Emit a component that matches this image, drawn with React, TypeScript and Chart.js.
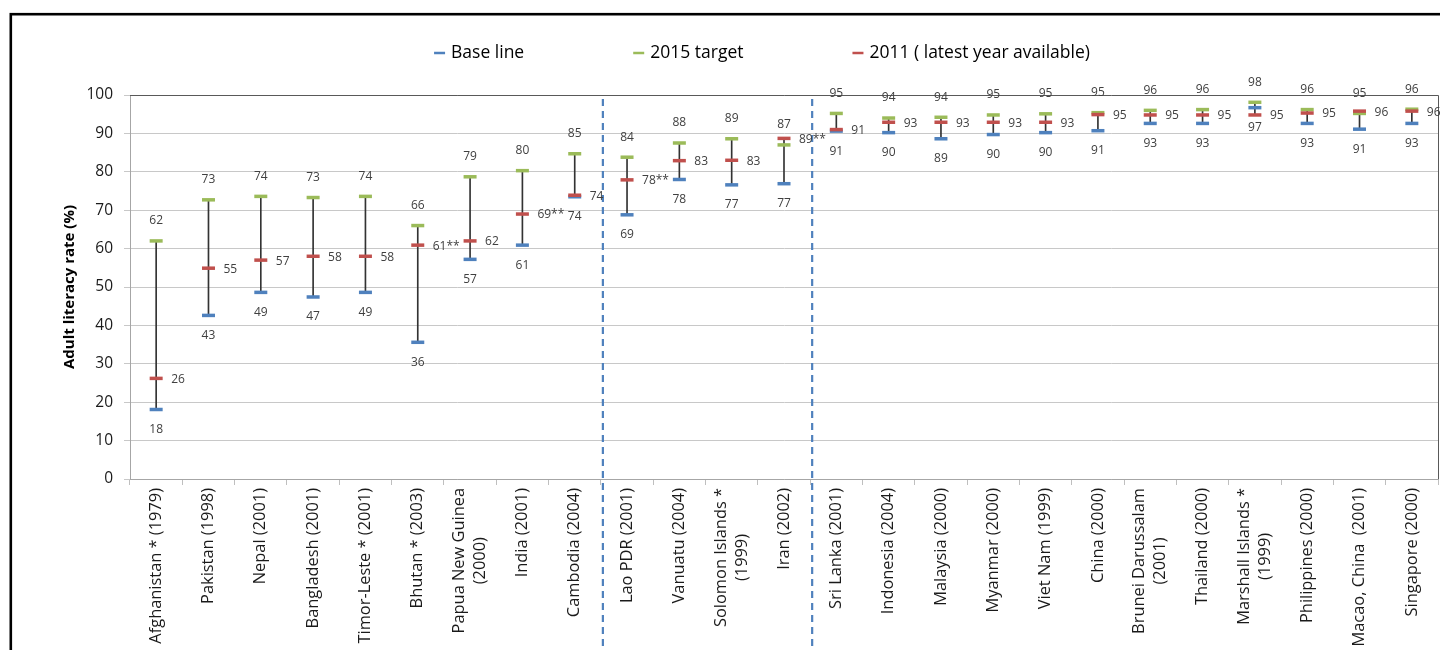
import React, { useEffect, useRef } from 'react';
import { Chart, registerables } from 'chart.js';

Chart.register(...registerables);

const categories: (string | string[])[] = [
  'Afghanistan * (1979)',
  'Pakistan (1998)',
  'Nepal (2001)',
  'Bangladesh (2001)',
  'Timor-Leste * (2001)',
  'Bhutan * (2003)',
  ['Papua New Guinea', '(2000)'],
  'India (2001)',
  'Cambodia (2004)',
  'Lao PDR (2001)',
  'Vanuatu (2004)',
  ['Solomon Islands *', '(1999)'],
  'Iran (2002)',
  'Sri Lanka (2001)',
  'Indonesia (2004)',
  'Malaysia (2000)',
  'Myanmar (2000)',
  'Viet Nam (1999)',
  'China (2000)',
  ['Brunei Darussalam', '(2001)'],
  'Thailand (2000)',
  ['Marshall Islands *', '(1999)'],
  'Philippines (2000)',
  'Macao, China  (2001)',
  'Singapore (2000)',
];

const baseLine = [18.1, 42.6, 48.6, 47.4, 48.6, 35.6, 57.2, 60.9, 73.5, 68.8, 78.0, 76.6, 76.9, 90.6, 90.2, 88.6, 89.7, 90.2, 90.7, 92.6, 92.6, 96.7, 92.6, 91.1, 92.6];
const target2015 = [62.0, 72.7, 73.6, 73.3, 73.6, 66.0, 78.7, 80.3, 84.7, 83.8, 87.5, 88.6, 87.0, 95.2, 94.0, 94.2, 94.8, 95.1, 95.4, 96.0, 96.2, 98.1, 96.2, 95.2, 96.3];
const latest2011 = [26.2, 54.9, 57.0, 58.0, 58.0, 60.9, 62.0, 69.0, 73.9, 77.9, 82.9, 83.0, 88.7, 91.0, 92.9, 92.9, 92.9, 92.9, 94.9, 94.8, 94.8, 94.8, 95.3, 95.8, 95.8];
const latestNotes = ['', '', '', '', '', '**', '', '**', '', '**', '', '', '**', '', '', '', '', '', '', '', '', '', '', '', ''];

const groupStarts = [9, 13];
const seriesNames = ['Base line', '2015 target', '2011 ( latest year available)'];
const seriesColors = ['#4F81BD', '#9BBB59', '#C0504D'];
const yMin = 0;
const yMax = 100;
const yStep = 10;

const FONT = '"Open Sans", "DejaVu Sans", sans-serif';

const CANVAS_W = 1440;
const CANVAS_H = 642;

const decorPlugin = {
  id: 'decor',
  beforeDraw(chart: any) {
    const ctx = chart.ctx;
    ctx.save();
    ctx.fillStyle = '#ffffff';
    ctx.fillRect(0, 0, chart.width, chart.height);
    ctx.strokeStyle = '#000000';
    ctx.lineWidth = 2.6;
    ctx.strokeRect(2.8, 6.2, chart.width + 40, chart.height + 40);
    ctx.restore();
  },
  beforeDatasetsDraw(chart: any) {
    const ctx = chart.ctx;
    const a = chart.chartArea;
    const xs = chart.scales.x;
    ctx.save();
    ctx.strokeStyle = '#595959';
    ctx.lineWidth = 1;
    ctx.beginPath();
    ctx.moveTo(a.left, Math.round(a.top) + 0.5);
    ctx.lineTo(Math.round(a.right) + 0.5, Math.round(a.top) + 0.5);
    ctx.lineTo(Math.round(a.right) + 0.5, a.bottom);
    ctx.stroke();
    ctx.strokeStyle = '#4F81BD';
    ctx.lineWidth = 2.2;
    ctx.setLineDash([7, 5]);
    groupStarts.forEach((g) => {
      const x = xs.getPixelForValue(g - 0.5) + 2;
      ctx.beginPath();
      ctx.moveTo(x, a.top + 4);
      ctx.lineTo(x, chart.height - 4);
      ctx.stroke();
    });
    ctx.restore();
  },
  afterDraw(chart: any) {
    const ctx = chart.ctx;
    const a = chart.chartArea;
    const xs = chart.scales.x;
    ctx.save();

    ctx.font = `12px ${FONT}`;
    ctx.fillStyle = '#404040';
    const drawSet = (di: number, values: number[], mode: string) => {
      const meta = chart.getDatasetMeta(di);
      meta.data.forEach((pt: any, i: number) => {
        const txt = String(Math.round(values[i])) + (di === 2 ? latestNotes[i] : '');
        if (mode === 'above') {
          ctx.textAlign = 'center';
          ctx.textBaseline = 'middle';
          ctx.fillText(txt, pt.x, pt.y - 20);
        } else if (mode === 'below') {
          ctx.textAlign = 'center';
          ctx.textBaseline = 'middle';
          ctx.fillText(txt, pt.x, pt.y + 20);
        } else {
          ctx.textAlign = 'left';
          ctx.textBaseline = 'middle';
          ctx.fillText(txt, pt.x + 15, pt.y + 1);
        }
      });
    };
    drawSet(0, baseLine, 'below');
    drawSet(1, target2015, 'above');
    drawSet(2, latest2011, 'right');

    ctx.font = `16.4px ${FONT}`;
    ctx.fillStyle = '#1a1a1a';
    categories.forEach((c, i) => {
      const lines = Array.isArray(c) ? c : [c];
      const x = xs.getPixelForTick(i);
      const y0 = a.bottom + 9;
      const wmax = Math.max(...lines.map((l) => ctx.measureText(l).width));
      ctx.save();
      ctx.translate(x, y0);
      ctx.rotate(-Math.PI / 2);
      ctx.textAlign = 'center';
      ctx.textBaseline = 'middle';
      lines.forEach((l, k) => {
        ctx.fillText(l, -wmax / 2, (k - (lines.length - 1) / 2) * 21);
      });
      ctx.restore();
    });

    ctx.font = `17.5px ${FONT}`;
    const symW = 11;
    const symGap = 6;
    const gap = 109;
    const widths = seriesNames.map((n) => symW + symGap + ctx.measureText(n).width);
    const total = widths.reduce((s, w) => s + w, 0) + gap * (seriesNames.length - 1);
    let lx = 754 - total / 2;
    const ly = 45;
    seriesNames.forEach((n, i) => {
      ctx.strokeStyle = seriesColors[i];
      ctx.lineWidth = 2.5;
      ctx.beginPath();
      ctx.moveTo(lx, ly);
      ctx.lineTo(lx + symW, ly);
      ctx.stroke();
      ctx.fillStyle = '#000000';
      ctx.textAlign = 'left';
      ctx.textBaseline = 'middle';
      ctx.fillText(n, lx + symW + symGap, ly);
      lx += widths[i] + gap;
    });

    ctx.restore();
  },
};

export default function App() {
  const canvasRef = useRef<HTMLCanvasElement | null>(null);

  useEffect(() => {
    const prevOverflow = document.documentElement.style.overflow;
    document.documentElement.style.overflow = 'hidden';
    const canvas = canvasRef.current;
    if (!canvas) return;

    const markerSet = (i: number, values: number[], order: number) => ({
      type: 'line' as const,
      label: seriesNames[i],
      data: values,
      showLine: false,
      pointStyle: 'line',
      pointRadius: 6.5,
      pointHoverRadius: 6.5,
      pointBorderWidth: 3.5,
      pointHoverBorderWidth: 3.5,
      borderColor: seriesColors[i],
      backgroundColor: seriesColors[i],
      pointBorderColor: seriesColors[i],
      pointBackgroundColor: seriesColors[i],
      order,
      clip: false,
    });

    const chart = new Chart(canvas, {
      type: 'bar',
      data: {
        labels: categories,
        datasets: [
          markerSet(0, baseLine, 2),
          markerSet(1, target2015, 1),
          markerSet(2, latest2011, 0),
          {
            type: 'bar',
            label: 'range',
            data: categories.map((_, i) => [
              Math.min(baseLine[i], target2015[i], latest2011[i]),
              Math.max(baseLine[i], target2015[i], latest2011[i]),
            ]),
            backgroundColor: '#333333',
            borderWidth: 0,
            barThickness: 1,
            order: 10,
          } as any,
        ],
      },
      options: {
        animation: false,
        responsive: false,
        events: [],
        layout: { padding: { left: 49, top: 87, right: 10, bottom: 0 } },
        plugins: {
          legend: { display: false },
          tooltip: { enabled: false },
        },
        scales: {
          x: {
            type: 'category',
            offset: true,
            grid: {
              display: true,
              drawOnChartArea: false,
              drawTicks: true,
              tickLength: 6,
              color: '#bfbfbf',
              offset: true,
            },
            border: { display: true, color: '#a6a6a6' },
            ticks: { display: false },
            afterFit: (s: any) => {
              s.height = 171;
            },
          },
          y: {
            min: yMin,
            max: yMax,
            ticks: {
              stepSize: yStep,
              padding: 11,
              color: '#1a1a1a',
              font: { family: FONT, size: 15.5 },
            },
            grid: { color: '#c8c8c8', tickLength: 6 },
            border: { display: true, color: '#a6a6a6' },
            title: {
              display: true,
              text: 'Adult literacy rate (%)',
              color: '#000000',
              font: { family: FONT, size: 15, weight: 'bold' },
              padding: { top: 4, bottom: 4 },
            },
            afterFit: (s: any) => {
              s.width = 73;
            },
          },
        },
      } as any,
      plugins: [decorPlugin],
    });

    return () => {
      chart.destroy();
      document.documentElement.style.overflow = prevOverflow;
    };
  }, []);

  return (
    <canvas
      ref={canvasRef}
      width={CANVAS_W}
      height={CANVAS_H}
      style={{ display: 'block', width: CANVAS_W, height: CANVAS_H }}
    />
  );
}
